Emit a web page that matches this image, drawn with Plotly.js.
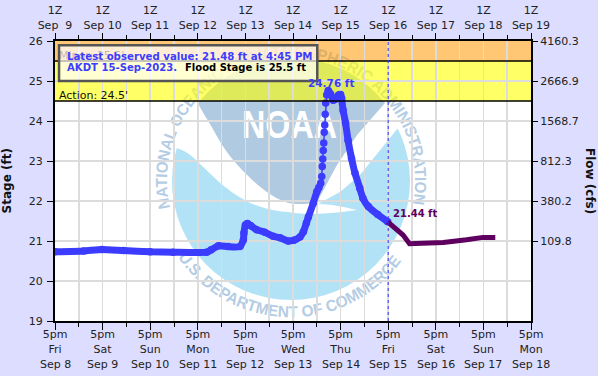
<!DOCTYPE html>
<html>
<head>
<meta charset="utf-8">
<script src="https://cdn.plot.ly/plotly-3.0.1.min.js"></script>
<style>html,body{margin:0;padding:0;background:#DDDDFF;overflow:hidden}#chart{width:598px;height:376px}</style>
</head>
<body>
<div id="chart"></div>
<script>
var obsTimes = ["2023-09-08 17:00","2023-09-09 07:30","2023-09-09 16:45","2023-09-10 03:30","2023-09-10 17:00","2023-09-11 04:30","2023-09-11 21:30","2023-09-11 23:45","2023-09-12 03:30","2023-09-12 08:15","2023-09-12 14:15","2023-09-12 16:00","2023-09-12 16:15","2023-09-12 17:00","2023-09-12 18:00","2023-09-12 19:45","2023-09-12 22:45","2023-09-13 02:45","2023-09-13 07:00","2023-09-13 10:30","2023-09-13 14:30","2023-09-13 17:30","2023-09-13 20:30","2023-09-13 22:15","2023-09-13 23:45","2023-09-14 00:45","2023-09-14 03:15","2023-09-14 05:00","2023-09-14 06:00","2023-09-14 07:00","2023-09-14 07:30","2023-09-14 07:45","2023-09-14 08:00","2023-09-14 08:15","2023-09-14 08:30","2023-09-14 08:45","2023-09-14 09:00","2023-09-14 09:15","2023-09-14 09:30","2023-09-14 10:00","2023-09-14 10:45","2023-09-14 12:00","2023-09-14 13:15","2023-09-14 14:30","2023-09-14 16:00","2023-09-14 17:00","2023-09-14 17:30","2023-09-14 18:15","2023-09-14 19:30","2023-09-14 20:45","2023-09-14 22:30","2023-09-15 00:15","2023-09-15 02:40","2023-09-15 04:15","2023-09-15 07:00","2023-09-15 11:45","2023-09-15 16:45"];
var obsStage = [20.73,20.75,20.79,20.76,20.73,20.72,20.72,20.78,20.88,20.86,20.86,21.03,21.2,21.4,21.44,21.38,21.28,21.22,21.12,21.08,21.0,21.02,21.1,21.23,21.45,21.6,21.95,22.23,22.33,22.45,22.61,22.86,23.05,23.26,23.45,23.72,23.9,24.17,24.45,24.65,24.76,24.67,24.52,24.55,24.65,24.66,24.57,24.27,23.95,23.52,23.07,22.7,22.32,22.07,21.86,21.66,21.48];
var fcstTimes = ["2023-09-15 16:45","2023-09-16 00:30","2023-09-16 03:45","2023-09-16 08:45","2023-09-16 20:45","2023-09-17 08:30","2023-09-17 16:45","2023-09-17 23:00"];
var fcstStage = [21.48,21.15,20.93,20.93,20.96,21.03,21.09,21.09];
var riseStart = 29, riseEnd = 39;

var tickDates = ["2023-09-08 17:00","2023-09-09 17:00","2023-09-10 17:00","2023-09-11 17:00","2023-09-12 17:00","2023-09-13 17:00","2023-09-14 17:00","2023-09-15 17:00","2023-09-16 17:00","2023-09-17 17:00","2023-09-18 17:00"];
var weekdays = ["Fri","Sat","Sun","Mon","Tue","Wed","Thu","Fri","Sat","Sun","Mon"];
var localDates = ["Sep 8","Sep 9","Sep 10","Sep 11","Sep 12","Sep 13","Sep 14","Sep 15","Sep 16","Sep 17","Sep 18"];
var utcDates = ["Sep\u00a0\u00a09","Sep 10","Sep 11","Sep 12","Sep 13","Sep 14","Sep 15","Sep 16","Sep 17","Sep 18","Sep 19"];
var stageTicks = [19,20,21,22,23,24,25,26];
var flowTickStages = [21,22,23,24,25,26];
var flowTickLabels = ["109.8","380.2","812.3","1568.7","2666.9","4160.3"];
var actionStage = 24.5, floodStage = 25.5, topStage = 26;
var nowTime = "2023-09-15 17:00";
var peakLabelTime = "2023-09-14 12:20", peakStage = 24.76;

var BLUE = "#3C3CFF", PURPLE = "#5F0060", GRID = "#DCDCDC", INK = "#222222";
var tickFont = {family:"DejaVu Sans", size:11, color:INK};
var range = ["2023-09-08 17:00","2023-09-18 17:00"];

var thin = {x:obsTimes, y:obsStage, mode:"lines+markers", type:"scatter", line:{color:BLUE,width:1.5}, marker:{color:BLUE,size:7.5}, hoverinfo:"skip", showlegend:false};
var thickA = {x:obsTimes.slice(0,riseStart+1), y:obsStage.slice(0,riseStart+1), mode:"lines", type:"scatter", line:{color:BLUE,width:7,shape:"spline",smoothing:0.5}, hoverinfo:"skip", showlegend:false};
var thickB = {x:obsTimes.slice(riseEnd), y:obsStage.slice(riseEnd), mode:"lines", type:"scatter", line:{color:BLUE,width:7,shape:"spline",smoothing:0.5}, hoverinfo:"skip", showlegend:false};
var fcst = {x:fcstTimes, y:fcstStage, mode:"lines", type:"scatter", line:{color:PURPLE,width:5}, hoverinfo:"skip", showlegend:false};
var bandText = {x:["2023-09-08 19:00","2023-09-08 19:00"], y:[24.62,25.62], text:["Action: 24.5'","Minor: 25.5'"], mode:"text", type:"scatter", textposition:"middle right", textfont:{family:"DejaVu Sans",size:11,color:"#111"}, hoverinfo:"skip", showlegend:false};
var helper = {x:range, y:[19,26], xaxis:"x2", yaxis:"y2", mode:"none", type:"scatter", hoverinfo:"skip", showlegend:false};

var annotations = localDates.map(function(d,i){
  return {x:tickDates[i], xref:"x", y:-0.154, yref:"paper", text:d, showarrow:false, font:tickFont, yanchor:"middle"};
});
annotations.push({x:0.5,xref:"paper",y:-0.185,yref:"paper",yanchor:"top",text:"<b>Site Time (AKDT)</b>",showarrow:false,font:{family:"DejaVu Sans",size:12,color:"#111"}});
annotations.push({x:-0.1,xref:"paper",xanchor:"center",y:0.5,yref:"paper",text:"<b>Stage (ft)</b>",textangle:-90,showarrow:false,font:{family:"DejaVu Sans",size:12,color:"#111"}});
annotations.push({x:1.124,xref:"paper",xanchor:"center",y:0.5,yref:"paper",text:"<b>Flow (cfs)</b>",textangle:90,showarrow:false,font:{family:"DejaVu Sans",size:12,color:"#111"}});
annotations.push({x:peakLabelTime,xref:"x",y:peakStage,yref:"y",yshift:8,text:"<b>24.76 ft</b>",showarrow:false,font:{family:"DejaVu Sans",size:10.5,color:BLUE}});
annotations.push({x:nowTime,xref:"x",xanchor:"left",xshift:3,y:fcstStage[0],yref:"y",yshift:8,text:"<b>21.44 ft</b>",showarrow:false,font:{family:"DejaVu Sans",size:10,color:PURPLE}});
annotations.push({x:0.0215,xref:"paper",xanchor:"left",y:0.943,yref:"paper",yanchor:"middle",text:"<b>Latest observed value: 21.48 ft at 4:45 PM</b>",showarrow:false,font:{family:"DejaVu Sans",size:10.2,color:BLUE}});
annotations.push({x:0.0215,xref:"paper",xanchor:"left",y:0.904,yref:"paper",yanchor:"middle",text:"<b>AKDT 15-Sep-2023.</b>",showarrow:false,font:{family:"DejaVu Sans",size:10.1,color:BLUE}});
annotations.push({x:0.269,xref:"paper",xanchor:"left",y:0.904,yref:"paper",yanchor:"middle",text:"<b>Flood Stage is 25.5 ft</b>",showarrow:false,font:{family:"DejaVu Sans",size:10,color:"#000"}});

var shapes = [
 {type:"rect",xref:"paper",x0:0,x1:1,yref:"y",y0:floodStage,y1:topStage,fillcolor:"rgba(255,153,0,0.55)",line:{width:0},layer:"below"},
 {type:"rect",xref:"paper",x0:0,x1:1,yref:"y",y0:actionStage,y1:floodStage,fillcolor:"rgba(255,255,0,0.6)",line:{width:0},layer:"below"},
 {type:"line",xref:"paper",x0:0,x1:1,yref:"y",y0:floodStage,y1:floodStage,line:{color:"#000",width:1.5}},
 {type:"line",xref:"paper",x0:0,x1:1,yref:"y",y0:actionStage,y1:actionStage,line:{color:"#000",width:1.5}},
 {type:"line",xref:"x",x0:nowTime,x1:nowTime,yref:"paper",y0:0,y1:1,line:{color:"#3333FF",width:1,dash:"3px,3px"}},
 {type:"rect",xref:"paper",x0:0.0085,x1:0.551,yref:"paper",y0:0.857,y1:0.985,fillcolor:"rgba(255,255,255,0.7)",line:{color:"#555",width:2.5}}
];

var dayMinor = {tickmode:"linear",dtick:43200000,tick0:"2023-09-08 05:00",ticks:"outside",ticklen:4,tickwidth:1,tickcolor:"#000",showgrid:true,gridcolor:GRID,gridwidth:1.5};

var layout = {
  width:598,height:376,margin:{l:55,r:67,t:41,b:55,pad:0},autosize:false,
  paper_bgcolor:"#DDDDFF",plot_bgcolor:"#FFFFFF",showlegend:false,hovermode:false,
  font:tickFont,
  xaxis:{type:"date",range:range,tickmode:"array",tickvals:tickDates,
    ticktext:weekdays.map(function(w){return "5pm<br>"+w;}),
    ticks:"outside",ticklen:7,tickwidth:1,tickcolor:"#000",showgrid:true,gridcolor:GRID,gridwidth:1.5,ticklabelstandoff:-5,
    showline:true,linecolor:"#000",linewidth:2,tickfont:tickFont,tickangle:0,minor:dayMinor,zeroline:false},
  xaxis2:{type:"date",range:range,overlaying:"x",side:"top",anchor:"y",tickmode:"array",tickvals:tickDates,
    ticktext:utcDates.map(function(d){return "1Z<br>"+d;}),
    ticks:"outside",ticklen:6,tickwidth:1,tickcolor:"#000",showgrid:false,
    showline:true,linecolor:"#000",linewidth:2,tickfont:tickFont,tickangle:0,
    minor:{tickmode:"linear",dtick:43200000,tick0:"2023-09-08 05:00",ticks:"outside",ticklen:4,tickwidth:1,tickcolor:"#000",showgrid:false},zeroline:false},
  yaxis:{range:[19,26],tickmode:"array",tickvals:stageTicks,ticktext:stageTicks.map(String),
    ticks:"outside",ticklen:6,tickwidth:1,tickcolor:"#000",showgrid:true,gridcolor:GRID,gridwidth:1.5,ticklabelstandoff:2,
    showline:true,linecolor:"#000",linewidth:2,tickfont:tickFont,zeroline:false},
  yaxis2:{range:[19,26],overlaying:"y",side:"right",anchor:"x",tickmode:"array",tickvals:flowTickStages,ticktext:flowTickLabels,
    ticks:"outside",ticklen:5,tickwidth:1,tickcolor:"#000",showgrid:false,
    showline:true,linecolor:"#000",linewidth:2,tickfont:tickFont,zeroline:false},
  shapes:shapes,annotations:annotations
};

var logo =
 '<circle cx="291" cy="181" r="119" fill="#B2E2F6"/>'+
 '<path fill="#FFFFFF" d="M176,148 C185,150 192,156 198,162 C212,175 225,190 248,202 C262,208 275,211 288,212 C310,216 335,213 357,210 C345,207 330,204 318,204 L340,192 L360,175 L398,128 A119,119 0 0 0 176,148 Z"/>'+
 '<path fill="#B0CAE2" d="M198,103 C202,112 207,118 218,138 C224,148 228,155 245,173 C258,186 272,198 288,203 C298,205 310,204 317,202 L337,165 L357,135 L385,103 A119,119 0 0 0 198,103 Z"/>'+
 '<text x="242" y="138" fill="#FFFFFF" font-family="Liberation Sans" font-weight="700" font-size="38" textLength="95" lengthAdjust="spacingAndGlyphs">NOAA</text>'+
 '<defs><path id="arcTop" d="M170,208 A124,124 0 1 1 412,208"/><path id="arcBot" d="M178,257 A136,136 0 0 0 404,257"/></defs>'+
 '<text fill="#B4CDE4" font-family="Liberation Sans" font-weight="700" font-size="16"><textPath href="#arcTop" textLength="440" lengthAdjust="spacingAndGlyphs">NATIONAL OCEANIC AND ATMOSPHERIC ADMINISTRATION</textPath></text>'+
 '<text fill="#B4CDE4" font-family="Liberation Sans" font-weight="700" font-size="16"><textPath href="#arcBot" textLength="262" lengthAdjust="spacingAndGlyphs">U.S. DEPARTMENT OF COMMERCE</textPath></text>';

Plotly.newPlot("chart",[thickA,thickB,thin,fcst,bandText,helper],layout,{displayModeBar:false,staticPlot:true}).then(function(){
  var host = document.querySelector("#chart .layer-below .imagelayer");
  if(host){ var g=document.createElementNS("http://www.w3.org/2000/svg","g"); g.setAttribute("class","noaa-logo"); g.innerHTML=logo; host.appendChild(g); }
});
</script>
</body>
</html>
